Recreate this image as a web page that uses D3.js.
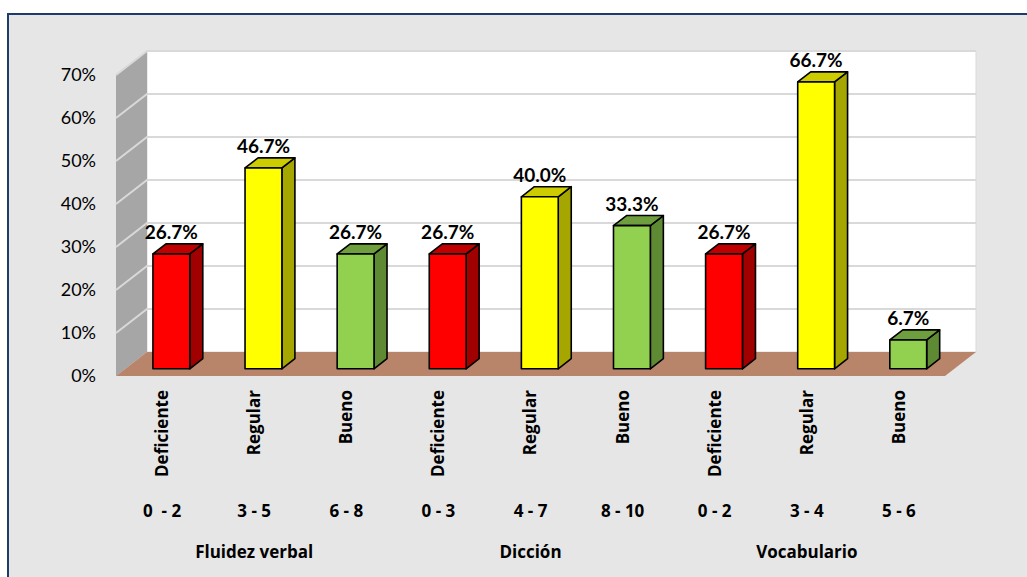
<!DOCTYPE html>
<html><head><meta charset="utf-8">
<script src="https://cdn.jsdelivr.net/npm/d3@7"></script>
<style>body{margin:0;background:#fff}svg{display:block}text{font-family:Lato,"Open Sans",sans-serif}.os{font-family:"Open Sans",Lato,sans-serif}</style>
</head><body><svg id="c" width="1027" height="577"></svg>
<script>
const categories = ["Deficiente","Regular","Bueno","Deficiente","Regular","Bueno","Deficiente","Regular","Bueno"];
const ranges = ["0  - 2","3 - 5","6 - 8","0 - 3","4 - 7","8 - 10","0 - 2","3 - 4","5 - 6"];
const groups = ["Fluidez verbal","Dicción","Vocabulario"];
const values = [26.7,46.7,26.7,26.7,40.0,33.3,26.7,66.7,6.7];
const levels = ["red","yellow","green","red","yellow","green","red","yellow","green"];
const yTicks = [0,10,20,30,40,50,60,70];

const palette = {
  red:{front:"#FF0000",side:"#A00000",top:"#C00000"},
  yellow:{front:"#FFFF00",side:"#A6A600",top:"#CCCC00"},
  green:{front:"#92D050",side:"#5E8A34",top:"#6E9E3E"}
};

const svg = d3.select("#c");
const DX = 31, DY = 24;
const x = d3.scaleBand().domain(d3.range(categories.length)).range([116,945]);
const y = d3.scaleLinear().domain([0,70]).range([376,75]);
const P = (xx, v, z) => [xx + z*DX, y(v) - z*DY];
const poly = pts => "M" + pts.map(p=>p.join(",")).join("L") + "Z";

// background + border
svg.append("rect").attr("x",8).attr("y",14).attr("width",1030).attr("height",580)
  .attr("fill","#E6E6E6").attr("stroke","#1F3A6E").attr("stroke-width",2);

const x0 = x.range()[0], x1 = x.range()[1];
// back wall
svg.append("path").attr("d", poly([P(x0,0,1),P(x0,70,1),P(x1,70,1),P(x1,0,1)]))
  .attr("fill","#fff").attr("stroke","#D9D9D9").attr("stroke-width",1);
// side wall
svg.append("path").attr("d", poly([P(x0,0,0),P(x0,70,0),P(x0,70,1),P(x0,0,1)]))
  .attr("fill","#A6A6A6");
// gridlines
yTicks.forEach(t=>{
  if(t===0) return;
  svg.append("path").attr("d","M"+P(x0,t,0).join(",")+"L"+P(x0,t,1).join(",")+"L"+P(x1,t,1).join(","))
    .attr("fill","none").attr("stroke","#D9D9D9").attr("stroke-width",2);
});
// floor
svg.append("path").attr("d", poly([P(x0,0,0),P(x0,0,1),P(x1,0,1),P(x1,0,0)]))
  .attr("fill","#B9856A");

// y axis labels
svg.selectAll("text.yt").data(yTicks).join("text").attr("class","yt")
  .attr("x",96).attr("y",d=>y(d)).attr("dy","0.35em").attr("text-anchor","end")
  .attr("font-size",18).attr("fill","#000").text(d=>d+"%");

// bars
const zf = 0.3, zb = 0.72, bw = x.bandwidth()*0.4;
const g = svg.append("g");
values.forEach((v,i)=>{
  const c = x(i) + x.bandwidth()/2;
  const l = c - bw/2, r = c + bw/2;
  const col = palette[levels[i]];
  const sw = {"stroke":"#000","stroke-width":1.6,"stroke-linejoin":"round"};
  const add = (d,fill)=>{const p=g.append("path").attr("d",d).attr("fill",fill);Object.entries(sw).forEach(([k,vv])=>p.attr(k,vv));};
  add(poly([P(r,0,zf),P(r,v,zf),P(r,v,zb),P(r,0,zb)]), col.side);
  add(poly([P(l,v,zf),P(l,v,zb),P(r,v,zb),P(r,v,zf)]), col.top);
  add(poly([P(l,0,zf),P(l,v,zf),P(r,v,zf),P(r,0,zf)]), col.front);
  const tp = P(c,v,zf);
  g.append("text").attr("x",tp[0]).attr("y",tp[1]-15).attr("text-anchor","middle")
    .attr("font-size",19).attr("font-weight","bold").attr("fill","#000").text(d3.format(".1f")(v)+"%");
});

// category labels
categories.forEach((t,i)=>{
  const c = x(i) + x.bandwidth()/2;
  svg.append("text").attr("class","os").attr("transform",`translate(${c},390) rotate(-90)`)
    .attr("text-anchor","end").attr("dy","0.35em").attr("font-size",17).attr("font-weight","bold").text(t);
  svg.append("text").attr("class","os").attr("x",c).attr("y",511).attr("dy","0.35em").attr("text-anchor","middle")
    .attr("font-size",17).attr("font-weight","bold").style("white-space","pre").text(ranges[i]);
});
groups.forEach((t,k)=>{
  const c = x(k*3+1) + x.bandwidth()/2;
  svg.append("text").attr("class","os").attr("x",c).attr("y",552).attr("dy","0.35em").attr("text-anchor","middle")
    .attr("font-size",17).attr("font-weight","bold").text(t);
});
</script></body></html>
